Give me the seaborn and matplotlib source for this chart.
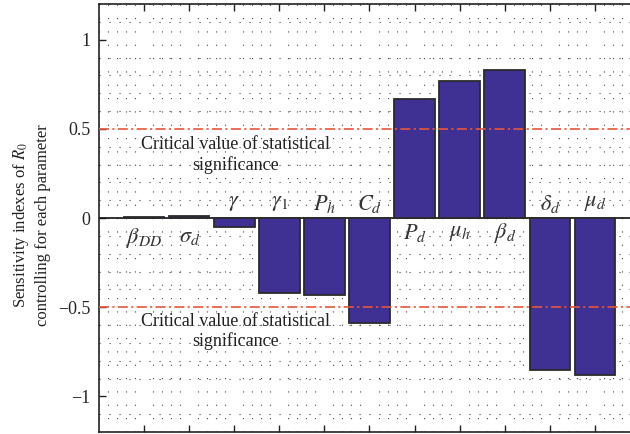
import numpy as np
import pandas as pd
import matplotlib
matplotlib.use("Agg")
import matplotlib.pyplot as plt
from matplotlib.ticker import MultipleLocator, FuncFormatter
import seaborn as sns

# Parameters and their sensitivity indexes of R0
params = [r"$\beta_{DD}$", r"$\sigma_d$", r"$\gamma$", r"$\gamma_1$", r"$P_h$",
          r"$C_d$", r"$P_d$", r"$\mu_h$", r"$\beta_d$", r"$\delta_d$", r"$\mu_d$"]
sensitivity = [0.005, 0.012, -0.05, -0.42, -0.43, -0.59, 0.67, 0.77, 0.83, -0.85, -0.88]
y_ticks = [-1, -0.5, 0, 0.5, 1]
critical = 0.5
critical_text = "Critical value of statistical\nsignificance"

sns.set_theme(style="white")
plt.rcParams["font.family"] = ["Liberation Serif", "DejaVu Serif"]
plt.rcParams["mathtext.fontset"] = "stix"

df = pd.DataFrame({"param": params, "value": sensitivity})

fig = plt.figure(figsize=(6.30, 4.34), dpi=100)
ax = fig.add_axes([99 / 630, 2 / 434, 541 / 630, 428 / 434])

# dotted background lattice
ax.yaxis.set_minor_locator(MultipleLocator(0.1))
ax.xaxis.set_minor_locator(MultipleLocator(0.2))
ax.grid(which="minor", axis="y", color="#444444", linewidth=0.8,
        linestyle=(0, (1, 8)), zorder=0)
ax.grid(which="minor", axis="x", color="#444444", linewidth=0.8,
        linestyle=(0, (1, 11)), zorder=0)
ax.set_axisbelow(True)

ax.axhline(0, color="#111111", linewidth=1.2, zorder=1)

sns.barplot(data=df, x="param", y="value", color="#3F3193", saturation=1,
            edgecolor="#2b2b2b", linewidth=1.3, width=0.9, ax=ax, zorder=2)

# critical value lines
for level in (critical, -critical):
    ax.axhline(level, color="#E8553A", linewidth=1.2,
               linestyle=(0, (6, 2, 1.3, 2)), zorder=3)

ax.text(2.02, 0.352, critical_text, ha="center", va="center", fontsize=13,
        color="#222222", linespacing=1.2, zorder=4)
ax.text(2.02, -0.637, critical_text, ha="center", va="center", fontsize=13,
        color="#222222", linespacing=1.2, zorder=4)

# parameter names next to the zero line
for i, (name, v) in enumerate(zip(params, sensitivity)):
    if v < 0:
        y = 0.08
    elif v < 0.1:
        y = -0.11
    else:
        y = -0.085
    ax.text(i, y, name, ha="center", va="center", fontsize=16,
            color="#333333", zorder=4)

ax.set_xlim(-1, 11)
ax.set_ylim(-1.2, 1.2)
ax.set_xticks(range(len(params)))
ax.set_xticklabels([])
ax.set_xlabel("")
ax.set_ylabel("")
ax.set_yticks(y_ticks)
ax.yaxis.set_major_formatter(FuncFormatter(lambda v, p: ("%g" % v).replace("-", "\u2212")))
ax.tick_params(axis="both", which="major", direction="in", length=5, width=1,
               color="#222222", top=True, bottom=True, left=True, right=False,
               labelsize=13, pad=6)
ax.tick_params(axis="both", which="minor", length=0)

fig.text(31 / 630, 1 - 225 / 434,
         "Sensitivity indexes of $R_0$\ncontrolling for each parameter",
         rotation=90, ha="center", va="center", fontsize=12,
         color="#222222", linespacing=1.35)

for s in ax.spines.values():
    s.set_color("#222222")
    s.set_linewidth(1.2)

fig.savefig("out.png", dpi=100)
